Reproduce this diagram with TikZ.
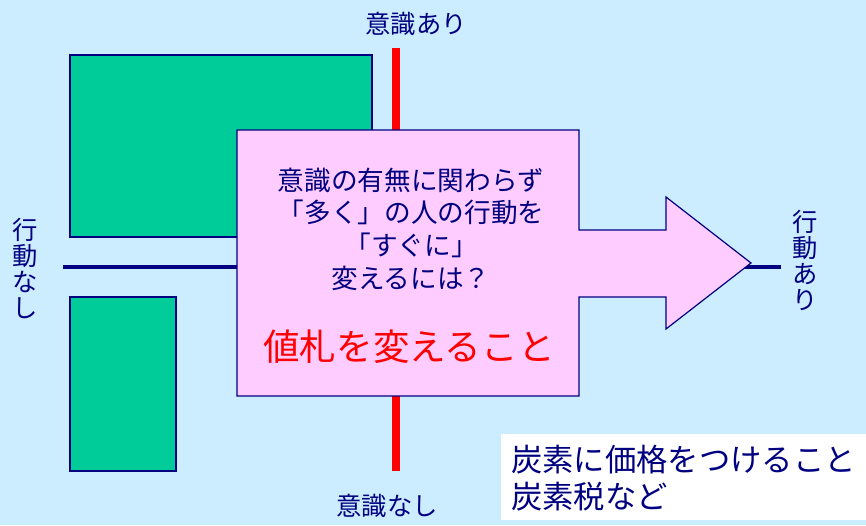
\documentclass[tikz,border=0pt]{standalone}
\usepackage{fontspec}
\setmainfont{Noto Sans CJK JP}
\definecolor{bg}{RGB}{204,236,255}
\definecolor{grn}{RGB}{0,204,153}
\definecolor{pnk}{RGB}{255,204,255}
\definecolor{nvy}{RGB}{0,0,128}
\definecolor{rd}{RGB}{255,0,0}
\begin{document}
\begin{tikzpicture}[x=0.75pt,y=-0.75pt,
  greenbox/.style={fill=grn, draw=nvy, line width=1.2pt},
  lbl/.style={text=nvy, inner sep=0pt, font=\fontsize{19}{23}\selectfont},
  vlbl/.style={text=nvy, inner sep=0pt, align=center, font=\fontsize{19}{19.5}\selectfont},
  axisline/.style={draw=nvy, line width=3pt},
  redline/.style={draw=rd, line width=6pt},
  arrowshape/.style={fill=pnk, draw=nvy, line width=0.9pt, line join=miter}]
\useasboundingbox (0,0) rectangle (866,525);
\fill[bg] (0,0) rectangle (866,525);
% green boxes
\path[greenbox] (70,55) rectangle (372,237);
\path[greenbox] (70,297) rectangle (176,471);
% axis lines
\coordinate (rtop) at (396,48);
\coordinate (rbot) at (396,471);
\coordinate (hl) at (63,267);
\coordinate (hr) at (781,267);
\draw[redline] (rtop) -- (rbot);
\draw[axisline] (hl) -- (hr);
% big arrow
\path[arrowshape] (237,130) -- (579,130) -- (579,230) -- (666,230) -- (666,197)
  -- (751,263) -- (666,329) -- (666,297) -- (579,297) -- (579,396) -- (237,396) -- cycle;
% texts in arrow
\node[text=nvy, align=center, inner sep=0pt, font=\fontsize{20}{24.5}\selectfont] (q) at (411,229)
  {意識の有無に関わらず\\「多く」の人の行動を\\「すぐに」\\変えるには？};
\node[text=rd, inner sep=0pt, font=\fontsize{27.4}{30}\selectfont] (ans) at (409,347) {値札を変えること};
% axis labels
\node[lbl] (top) at (416,24) {意識あり};
\node[lbl] (bot) at (387,506) {意識なし};
\node[vlbl] (left) at (25,268) {行\\動\\な\\し};
\node[vlbl] (right) at (805,260) {行\\動\\あ\\り};
% white box
\fill[white] (501,434) rectangle (866,520);
\node[text=nvy, align=left, anchor=north west, inner sep=0pt, font=\fontsize{23.5}{27.75}\selectfont] (note) at (511,445)
  {炭素に価格をつけること\\炭素税など};
\end{tikzpicture}
\end{document}
